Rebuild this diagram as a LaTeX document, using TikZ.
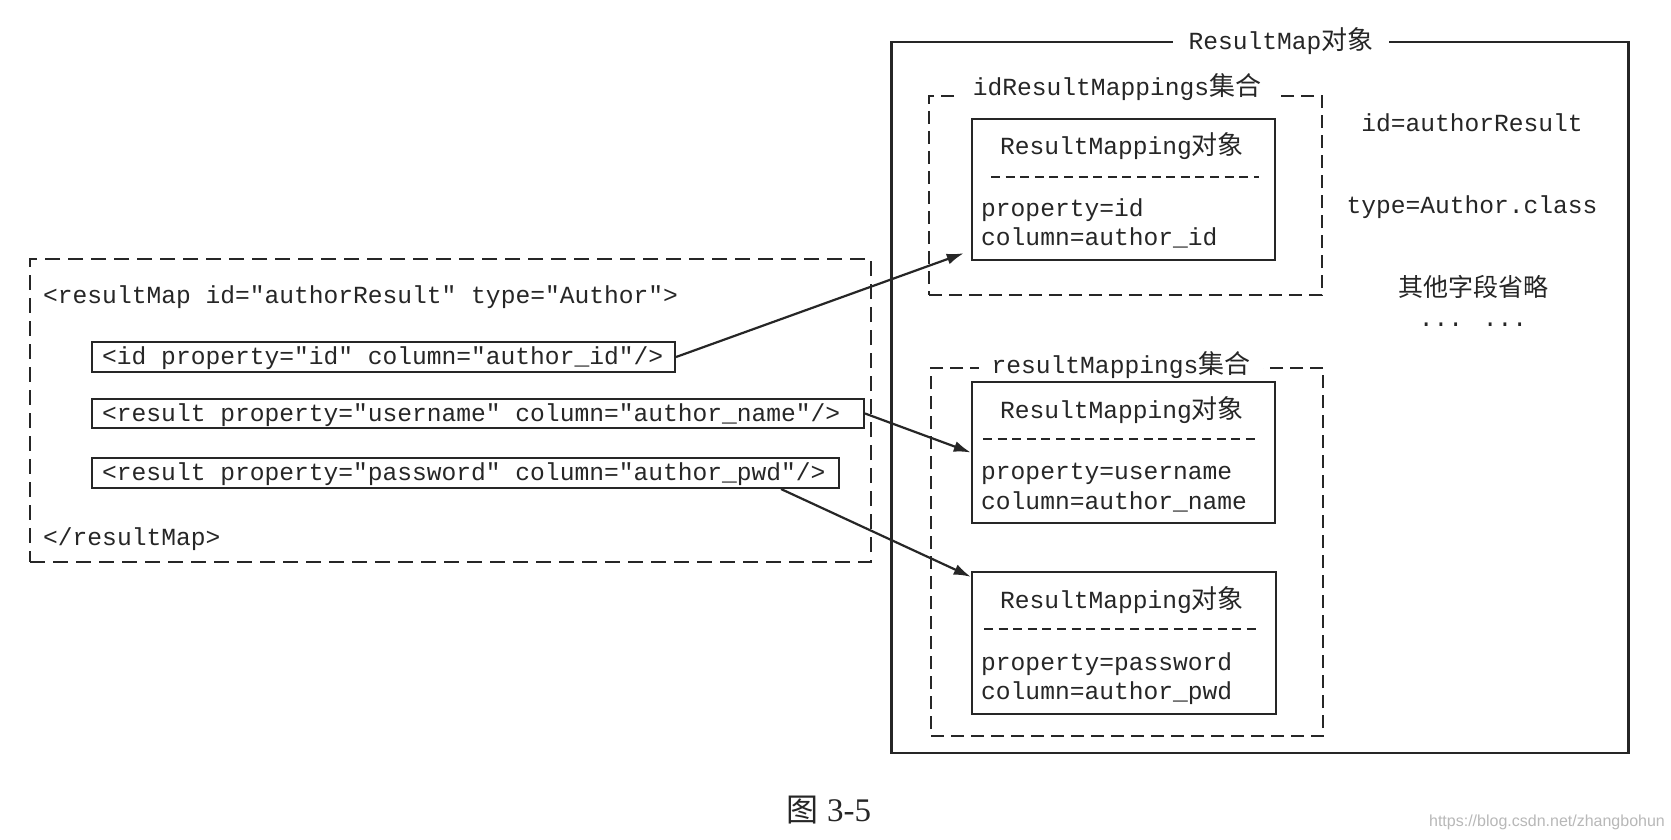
\documentclass[tikz,border=0pt]{standalone}
\usepackage{fontspec}
\newfontfamily\mono{Liberation Mono}[Ligatures=TeXOff]
\newfontfamily\cjk{Noto Sans CJK SC}
\newfontfamily\capserif{Liberation Serif}
\newfontfamily\wmfont{Liberation Sans}
\usetikzlibrary{arrows.meta}
\definecolor{ink}{HTML}{262626}
\newcommand\zhtxt[1]{{\cjk\fontsize{26}{30}\selectfont #1}}
\begin{document}
\begin{tikzpicture}[x=1pt,y=-1pt,
  every node/.style={inner sep=0pt, text=ink},
  mono/.style={font=\mono\fontsize{24.6}{30}\selectfont},
  code/.style={mono, anchor=base west},
  ctr/.style={mono, anchor=base},
  dbox/.style={draw=ink, line width=2pt, dash pattern=on 13pt off 7pt},
  sbox/.style={draw=ink, line width=2.1pt},
  mbox/.style={draw=ink, line width=2.4pt},
  ttl/.style={mono, anchor=base, fill=white, inner xsep=14pt, inner ysep=4pt},
  sep/.style={draw=ink, line width=1.7pt, dash pattern=on 9pt off 5.6pt},
  arr/.style={draw=ink, line width=2.2pt, -{Latex[length=17pt,width=11pt]}},
]
\useasboundingbox (0,0) rectangle (1671,840);
\fill[white] (0,0) rectangle (1671,840);

% ---- right: ResultMap object ----
\node[sbox, minimum width=737pt, minimum height=711pt] (outer) at (1260,397.5) {};
\node[ttl, inner xsep=16pt] (outerT) at (1281,50) {ResultMap\zhtxt{对象}};

\node[dbox, minimum width=393pt, minimum height=199pt] (idset) at (1125.5,195.5) {};
\node[ttl] (idsetT) at (1117,96) {idResultMappings\zhtxt{集合}};

\node[dbox, minimum width=392pt, minimum height=368pt] (resset) at (1127,552) {};
\node[ttl, inner xsep=13pt] (ressetT) at (1121,373) {resultMappings\zhtxt{集合}};

% ResultMapping 1
\node[mbox, minimum width=303pt, minimum height=141pt] (rm1) at (1123.5,189.5) {};
\node[ctr] (rm1t) at (1122,155) {ResultMapping\zhtxt{对象}};
\draw[sep] (991,177) -- (1259,177);
\node[code] (rm1p) at (981,216) {property=id};
\node[code] (rm1c) at (981,245) {column=author\_id};

% ResultMapping 2
\node[mbox, minimum width=303pt, minimum height=141pt] (rm2) at (1123.5,452.5) {};
\node[ctr] (rm2t) at (1122,418) {ResultMapping\zhtxt{对象}};
\draw[sep] (983,439) -- (1255,439);
\node[code] (rm2p) at (981,479) {property=username};
\node[code] (rm2c) at (981,509) {column=author\_name};

% ResultMapping 3
\node[mbox, minimum width=304pt, minimum height=142pt] (rm3) at (1124,643) {};
\node[ctr] (rm3t) at (1122,608) {ResultMapping\zhtxt{对象}};
\draw[sep] (984,629) -- (1256,629);
\node[code] (rm3p) at (981,670) {property=password};
\node[code] (rm3c) at (981,699) {column=author\_pwd};

% right-hand attributes
\node[ctr] (idattr) at (1472,132) {id=authorResult};
\node[ctr] (typeattr) at (1472,213) {type=Author.class};
\node[anchor=base, font=\cjk\fontsize{25}{30}\selectfont] (other) at (1473,296) {其他字段省略};
\node[ctr] (dots) at (1473,326) {... ...};

% ---- left: XML ----
\node[dbox, dash pattern=on 15pt off 8pt, minimum width=841pt, minimum height=303pt] (xml) at (450.5,410.5) {};
\node[code] (open) at (43,303) {<resultMap id="authorResult" type="Author">};
\node[sbox, minimum width=583pt, minimum height=30pt] (idbox) at (383.5,357) {};
\node[code] (idtxt) at (102,364) {<id property="id" column="author\_id"/>};
\node[sbox, minimum width=772pt, minimum height=29pt] (ubox) at (478,413.5) {};
\node[code] (utxt) at (102,421) {<result property="username" column="author\_name"/>};
\node[sbox, minimum width=747pt, minimum height=30pt] (pbox) at (465.5,473) {};
\node[code] (ptxt) at (102,480) {<result property="password" column="author\_pwd"/>};
\node[code] (close) at (43,545) {</resultMap>};

% ---- arrows ----
\draw[arr] (idbox.east) -- ([xshift=-7pt,yshift=8pt]rm1.south west);
\draw[arr] (ubox.east) -- (rm2.west);
\draw[arr] ([xshift=-59pt]pbox.south east) -- ([yshift=-6pt]rm3.north west);

% ---- caption and watermark ----
\node (cap) at (829,810) {{\cjk\fontsize{32}{36}\selectfont 图}{\capserif\fontsize{33}{36}\selectfont\ 3-5}};
\node[text=black!28, font=\wmfont\fontsize{16}{20}\selectfont] (wm) at (1547,822) {https://blog.csdn.net/zhangbohun};
\end{tikzpicture}
\end{document}
